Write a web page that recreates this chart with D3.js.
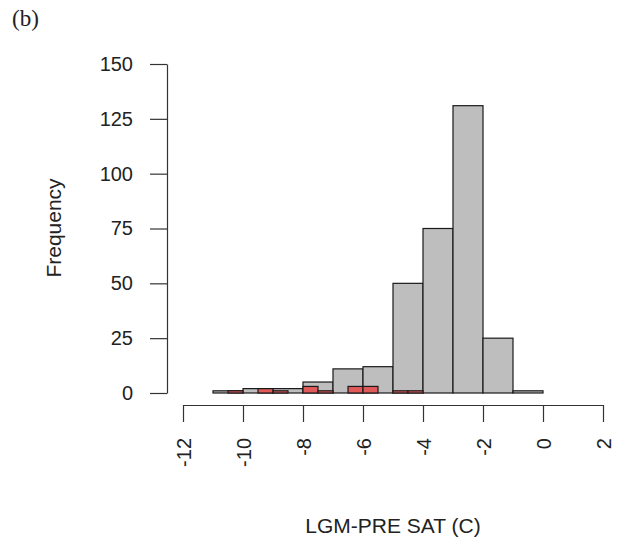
<!DOCTYPE html>
<html>
<head>
<meta charset="utf-8">
<script src="https://cdn.jsdelivr.net/npm/d3@7"></script>
<style>
  body { margin: 0; background: #fff; }
  text { font-family: "Liberation Sans", Arial, sans-serif; fill: #222; }
</style>
</head>
<body>
<div id="chart"></div>
<script>
// gray histogram, bins of width 1 (lower edge)
var grayStart = [-11, -10, -9, -8, -7, -6, -5, -4, -3, -2, -1];
var grayCount = [1, 2, 2, 5, 11, 12, 50, 75, 131, 25, 1];

// red histogram, bins of width 0.5 (lower edge)
var redStart = [-10.5, -9.5, -9, -8, -7.5, -6.5, -6, -5, -4.5];
var redCount = [1, 2, 1, 3, 1, 3, 3, 1, 1];

var xTicks = [-12, -10, -8, -6, -4, -2, 0, 2];
var yTicks = [0, 25, 50, 75, 100, 125, 150];

var svg = d3.select("#chart")
  .append("svg")
  .attr("width", 619)
  .attr("height", 542);

var x = d3.scaleLinear().domain([-12, 2]).range([183, 603]);
var y = d3.scaleLinear().domain([0, 150]).range([393, 64]);

// gray bars
svg.selectAll("rect.gray")
  .data(grayStart)
  .enter()
  .append("rect")
  .attr("class", "gray")
  .attr("x", d => x(d))
  .attr("width", d => x(d + 1) - x(d))
  .attr("y", (d, i) => y(grayCount[i]))
  .attr("height", (d, i) => y(0) - y(grayCount[i]))
  .attr("fill", "#bebebe")
  .attr("stroke", "#1a1a1a")
  .attr("stroke-width", 1.2);

// red bars
svg.selectAll("rect.red")
  .data(redStart)
  .enter()
  .append("rect")
  .attr("class", "red")
  .attr("x", d => x(d))
  .attr("width", d => x(d + 0.5) - x(d))
  .attr("y", (d, i) => y(redCount[i]))
  .attr("height", (d, i) => y(0) - y(redCount[i]))
  .attr("fill", "#e05a5a")
  .attr("stroke", "#1a1a1a")
  .attr("stroke-width", 1.2);

// x axis
var xAxis = svg.append("g")
  .attr("transform", "translate(0,405)")
  .call(d3.axisBottom(x).tickValues(xTicks).tickSize(17).tickSizeOuter(0).tickFormat(d3.format("d")));
xAxis.select(".domain").attr("stroke", "#333").attr("stroke-width", 1.2);
xAxis.selectAll(".tick line").attr("stroke", "#333").attr("stroke-width", 1.2);
xAxis.selectAll(".tick text")
  .attr("font-size", 20)
  .attr("fill", "#222")
  .attr("transform", "rotate(-90)")
  .attr("text-anchor", "end")
  .attr("x", -33)
  .attr("y", 0)
  .attr("dy", "0.35em")
  .text(d => d < 0 ? "-" + Math.abs(d) : d);

// y axis
var yAxis = svg.append("g")
  .attr("transform", "translate(167,0)")
  .call(d3.axisLeft(y).tickValues(yTicks).tickSize(17).tickSizeOuter(0));
yAxis.select(".domain").attr("stroke", "#333").attr("stroke-width", 1.2);
yAxis.selectAll(".tick text")
  .attr("font-size", 20)
  .attr("fill", "#222")
  .attr("x", -34);
yAxis.selectAll(".tick line").attr("stroke", "#333").attr("stroke-width", 1.2);

// labels
svg.append("text")
  .attr("x", 393)
  .attr("y", 533)
  .attr("text-anchor", "middle")
  .attr("font-size", 21)
  .text("LGM-PRE SAT (C)");

svg.append("text")
  .attr("transform", "translate(61,228) rotate(-90)")
  .attr("text-anchor", "middle")
  .attr("font-size", 21)
  .text("Frequency");

svg.append("text")
  .attr("x", 12)
  .attr("y", 26)
  .attr("font-size", 23)
  .style("font-family", "'Liberation Serif', 'Times New Roman', serif")
  .text("(b)");
</script>
</body>
</html>
